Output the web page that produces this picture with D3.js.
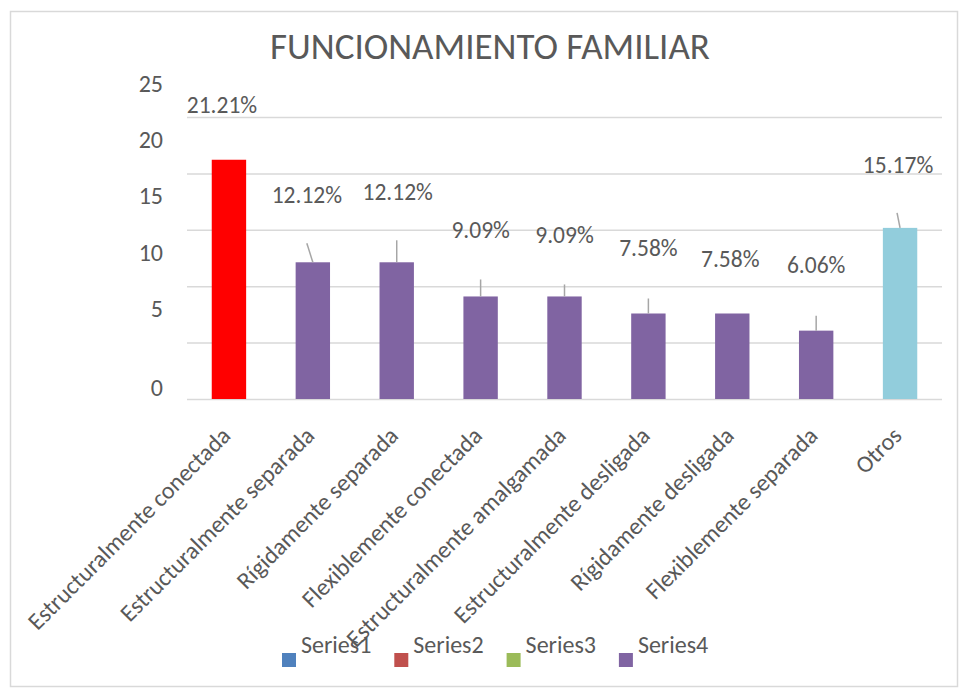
<!DOCTYPE html>
<html>
<head>
<meta charset="utf-8">
<script src="https://cdn.jsdelivr.net/npm/d3@7"></script>
<style>
    body { margin: 0; background: #fff; }
    text { font-family: Carlito, Calibri, Lato, sans-serif; fill: #595959; }
</style>
</head>
<body>
<div id="chart"></div>
<script>
//Datos del gráfico
const categorias = [
    'Estructuralmente conectada',
    'Estructuralmente separada',
    'Rígidamente separada',
    'Flexiblemente conectada',
    'Estructuralmente amalgamada',
    'Estructuralmente desligada',
    'Rígidamente desligada',
    'Flexiblemente separada',
    'Otros'
];
const valores = [21.21, 12.12, 12.12, 9.09, 9.09, 7.58, 7.58, 6.06, 15.17];
const etiquetas = ['21.21%', '12.12%', '12.12%', '9.09%', '9.09%', '7.58%', '7.58%', '6.06%', '15.17%'];
const yTicks = [0, 5, 10, 15, 20, 25];
const series = ['Series1', 'Series2', 'Series3', 'Series4'];

//Colores
const COLOR_RED = '#FF0000',
    COLOR_PURPLE = '#8064A2',
    COLOR_LIGHTBLUE = '#92CDDC',
    COLOR_GRID = '#D9D9D9',
    COLOR_LEADER = '#A6A6A6';
const barColors = [COLOR_RED, COLOR_PURPLE, COLOR_PURPLE, COLOR_PURPLE, COLOR_PURPLE, COLOR_PURPLE, COLOR_PURPLE, COLOR_PURPLE, COLOR_LIGHTBLUE];
const legendColors = ['#4F81BD', '#C0504D', '#9BBB59', '#8064A2'];

//Posición de etiquetas (movidas a mano en el original) respecto al techo de la barra
const labelOffsets = [[-7, -47], [-6, -59], [1, -62], [0, -58], [0, -53], [0, -57], [-2, -46], [0, -58], [-2, -55]];
//Líneas guía: null = sin línea
const leaderLines = [null, [-6, -19], [0, -22], [0, -17], [0, -12], [0, -15], null, [0, -15], [-3, -15]];

let width = 961,
    height = 689;

let plotLeft = 187, plotRight = 942, plotTop = 117, plotBottom = 399;

let svg = d3.select('#chart')
    .append('svg')
    .attr('width', width)
    .attr('height', height);

//Borde
svg.append('rect')
    .attr('x', 10.5)
    .attr('y', 11.5)
    .attr('width', 947)
    .attr('height', 675)
    .attr('fill', '#fff')
    .attr('stroke', COLOR_GRID)
    .attr('stroke-width', 1.5);

//Título
svg.append('text')
    .attr('x', 490)
    .attr('y', 59)
    .attr('text-anchor', 'middle')
    .style('font-size', '37px')
    .text('FUNCIONAMIENTO FAMILIAR');

let x = d3.scaleBand()
    .domain(categorias)
    .range([plotLeft, plotRight])
    .paddingInner(0.59)
    .paddingOuter(0.295);

let y = d3.scaleLinear()
    .domain([0, 25])
    .range([plotBottom, plotTop]);

//Eje Y + rejilla
let yAxis = svg.append('g')
    .attr('transform', 'translate(' + plotLeft + ',0)')
    .call(d3.axisLeft(y).tickValues(yTicks).tickSize(-(plotRight - plotLeft)).tickPadding(24));

yAxis.attr('font-family', null).attr('font-size', null);
yAxis.select('.domain').remove();
yAxis.selectAll('line')
    .attr('stroke', COLOR_GRID)
    .attr('stroke-width', 1.5);
yAxis.selectAll('text')
    .attr('dy', 0)
    .attr('y', function(d) { return d == 0 ? -4 : -26; })
    .attr('fill', '#595959')
    .style('font-size', '24px');

//Barras
svg.selectAll('.bar')
    .data(valores)
    .enter()
    .append('rect')
    .attr('class', 'bar')
    .attr('x', function(d, i) { return x(categorias[i]); })
    .attr('width', x.bandwidth())
    .attr('y', function(d) { return y(d); })
    .attr('height', function(d) { return y(0) - y(d); })
    .attr('fill', function(d, i) { return barColors[i]; });

//Líneas guía
valores.forEach(function(d, i) {
    if (leaderLines[i] == null) return;
    let cx = x(categorias[i]) + x.bandwidth() / 2;
    svg.append('line')
        .attr('x1', cx)
        .attr('y1', y(d))
        .attr('x2', cx + leaderLines[i][0])
        .attr('y2', y(d) + leaderLines[i][1])
        .attr('stroke', COLOR_LEADER)
        .attr('stroke-width', 1.5);
});

//Etiquetas de datos
svg.selectAll('.label')
    .data(valores)
    .enter()
    .append('text')
    .attr('class', 'label')
    .attr('x', function(d, i) { return x(categorias[i]) + x.bandwidth() / 2 + labelOffsets[i][0]; })
    .attr('y', function(d, i) { return y(d) + labelOffsets[i][1]; })
    .attr('text-anchor', 'middle')
    .style('font-size', '23.5px')
    .text(function(d, i) { return etiquetas[i]; });

//Eje X
let xAxis = svg.append('g')
    .attr('transform', 'translate(0,' + plotBottom + ')')
    .call(d3.axisBottom(x).tickSize(0));

xAxis.attr('font-family', null).attr('font-size', null);
xAxis.select('.domain').remove();
xAxis.selectAll('text')
    .attr('x', 0)
    .attr('y', 0)
    .attr('dy', 0)
    .attr('transform', 'translate(3,38) rotate(-45)')
    .attr('text-anchor', 'end')
    .attr('fill', '#595959')
    .style('font-size', '24px');

//Leyenda
let legend = svg.selectAll('.legend')
    .data(series)
    .enter()
    .append('g')
    .attr('class', 'legend')
    .attr('transform', function(d, i) { return 'translate(' + (282 + i * 112.3) + ',653)'; });

legend.append('rect')
    .attr('width', 14)
    .attr('height', 14)
    .attr('fill', function(d, i) { return legendColors[i]; });

legend.append('text')
    .attr('x', 19)
    .attr('y', 0)
    .style('font-size', '24px')
    .text(function(d) { return d; });
</script>
</body>
</html>
